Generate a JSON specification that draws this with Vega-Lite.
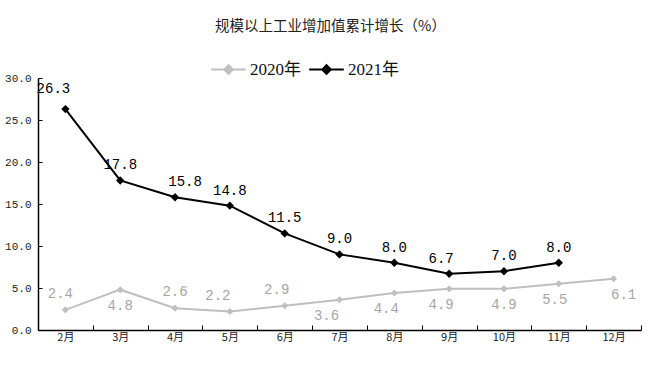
{
  "$schema": "https://vega.github.io/schema/vega-lite/v6.json",
  "width": 603,
  "height": 252,
  "autosize": "none",
  "padding": {"left": 38, "top": 78, "right": 15, "bottom": 40},
  "background": "white",
  "config": {
    "view": {"stroke": null},
    "font": "Liberation Serif, Noto Sans CJK SC"
  },
  "title": {
    "text": "规模以上工业增加值累计增长（%）",
    "fontSize": 14.5,
    "fontWeight": "normal",
    "color": "#222222",
    "font": "Noto Sans CJK SC",
    "dx": -9,
    "offset": 17
  },
  "data": {
    "values": [
      {"month": "2月", "year": "2020年", "value": 2.4},
      {"month": "3月", "year": "2020年", "value": 4.8},
      {"month": "4月", "year": "2020年", "value": 2.6},
      {"month": "5月", "year": "2020年", "value": 2.2},
      {"month": "6月", "year": "2020年", "value": 2.9},
      {"month": "7月", "year": "2020年", "value": 3.6},
      {"month": "8月", "year": "2020年", "value": 4.4},
      {"month": "9月", "year": "2020年", "value": 4.9},
      {"month": "10月", "year": "2020年", "value": 4.9},
      {"month": "11月", "year": "2020年", "value": 5.5},
      {"month": "12月", "year": "2020年", "value": 6.1},
      {"month": "2月", "year": "2021年", "value": 26.3},
      {"month": "3月", "year": "2021年", "value": 17.8},
      {"month": "4月", "year": "2021年", "value": 15.8},
      {"month": "5月", "year": "2021年", "value": 14.8},
      {"month": "6月", "year": "2021年", "value": 11.5},
      {"month": "7月", "year": "2021年", "value": 9.0},
      {"month": "8月", "year": "2021年", "value": 8.0},
      {"month": "9月", "year": "2021年", "value": 6.7},
      {"month": "10月", "year": "2021年", "value": 7.0},
      {"month": "11月", "year": "2021年", "value": 8.0}
    ]
  },
  "encoding": {
    "x": {
      "field": "month",
      "type": "ordinal",
      "sort": ["2月","3月","4月","5月","6月","7月","8月","9月","10月","11月","12月"],
      "scale": {"paddingInner": 0, "paddingOuter": 0},
      "axis": {
        "title": null,
        "labelAngle": 0,
        "labelFontSize": 11,
        "labelColor": "#222222",
        "labelFont": "Noto Sans CJK SC",
        "labelPadding": 6,
        "tickBand": "extent",
        "tickSize": -5,
        "tickColor": "#000000",
        "domainColor": "#000000",
        "domainWidth": 1.5
      }
    },
    "y": {
      "field": "value",
      "type": "quantitative",
      "scale": {"domain": [0, 30], "nice": false},
      "axis": {
        "title": null,
        "values": [0, 5, 10, 15, 20, 25, 30],
        "format": ".1f",
        "grid": false,
        "labelFont": "Liberation Mono",
        "labelFontSize": 11,
        "labelColor": "#222222",
        "labelPadding": 11,
        "tickSize": -4,
        "tickColor": "#000000",
        "domainColor": "#000000",
        "domainWidth": 1.5
      }
    },
    "color": {
      "field": "year",
      "type": "nominal",
      "scale": {"domain": ["2020年", "2021年"], "range": ["#bfbfbf", "#000000"]},
      "legend": {
        "title": null,
        "orient": "none",
        "direction": "horizontal",
        "legendX": 172,
        "legendY": -27,
        "symbolType": "M-1,0H1M-0.25,0L0,-0.25L0.25,0L0,0.25Z",
        "symbolSize": 1200,
        "symbolStrokeWidth": 2,
        "labelFontSize": 17,
        "labelFont": "Liberation Serif, Noto Sans CJK SC",
        "labelColor": "#111111",
        "columnPadding": 4,
        "labelOffset": 3,
        "encode": {
          "symbols": {
            "update": {
              "fill": {"scale": "color", "field": "value"},
              "stroke": {"scale": "color", "field": "value"},
              "size": {"value": 1200},
              "strokeWidth": {"value": 2},
              "opacity": {"value": 1}
            }
          }
        }
      }
    }
  },
  "layer": [
    {
      "mark": {"type": "line", "strokeWidth": 2}
    },
    {
      "transform": [{"filter": "datum.year == '2020年'"}],
      "mark": {"type": "point", "shape": "diamond", "filled": true, "opacity": 1, "size": 50}
    },
    {
      "transform": [{"filter": "datum.year == '2021年'"}],
      "mark": {"type": "point", "shape": "diamond", "filled": true, "opacity": 1, "size": 70}
    },
    {
      "transform": [{"filter": "datum.year == '2021年'"}],
      "mark": {
        "type": "text",
        "font": "Liberation Mono",
        "fontSize": 14,
        "color": "#000000",
        "baseline": "bottom",
        "dy": {"expr": "datum.month == '2月' ? -13 : -8"},
        "dx": {"expr": "datum.month == '2月' ? -12 : datum.month == '4月' ? 10 : datum.month == '9月' ? -8 : 0"}
      },
      "encoding": {
        "text": {"field": "value", "type": "quantitative", "format": ".1f"},
        "color": {"value": "#000000"}
      }
    },
    {
      "transform": [{"filter": {"field": "month", "oneOf": ["2月", "4月", "5月", "6月"]}}, {"filter": "datum.year == '2020年'"}],
      "mark": {
        "type": "text",
        "font": "Liberation Mono",
        "fontSize": 14,
        "baseline": "bottom",
        "dy": -9,
        "dx": {"expr": "datum.month == '5月' ? -12 : datum.month == '6月' ? -8 : datum.month == '2月' ? -5 : 0"}
      },
      "encoding": {
        "text": {"field": "value", "type": "quantitative", "format": ".1f"},
        "color": {"value": "#a6a6a6"}
      }
    },
    {
      "transform": [{"filter": {"field": "month", "oneOf": ["3月", "7月", "8月", "9月", "10月", "11月", "12月"]}}, {"filter": "datum.year == '2020年'"}],
      "mark": {
        "type": "text",
        "font": "Liberation Mono",
        "fontSize": 14,
        "baseline": "top",
        "dy": 9,
        "dx": {"expr": "datum.month == '7月' ? -13 : datum.month == '8月' ? -8 : datum.month == '9月' ? -8 : datum.month == '11月' ? -4 : datum.month == '12月' ? 10 : 0"}
      },
      "encoding": {
        "text": {"field": "value", "type": "quantitative", "format": ".1f"},
        "color": {"value": "#a6a6a6"}
      }
    }
  ]
}
